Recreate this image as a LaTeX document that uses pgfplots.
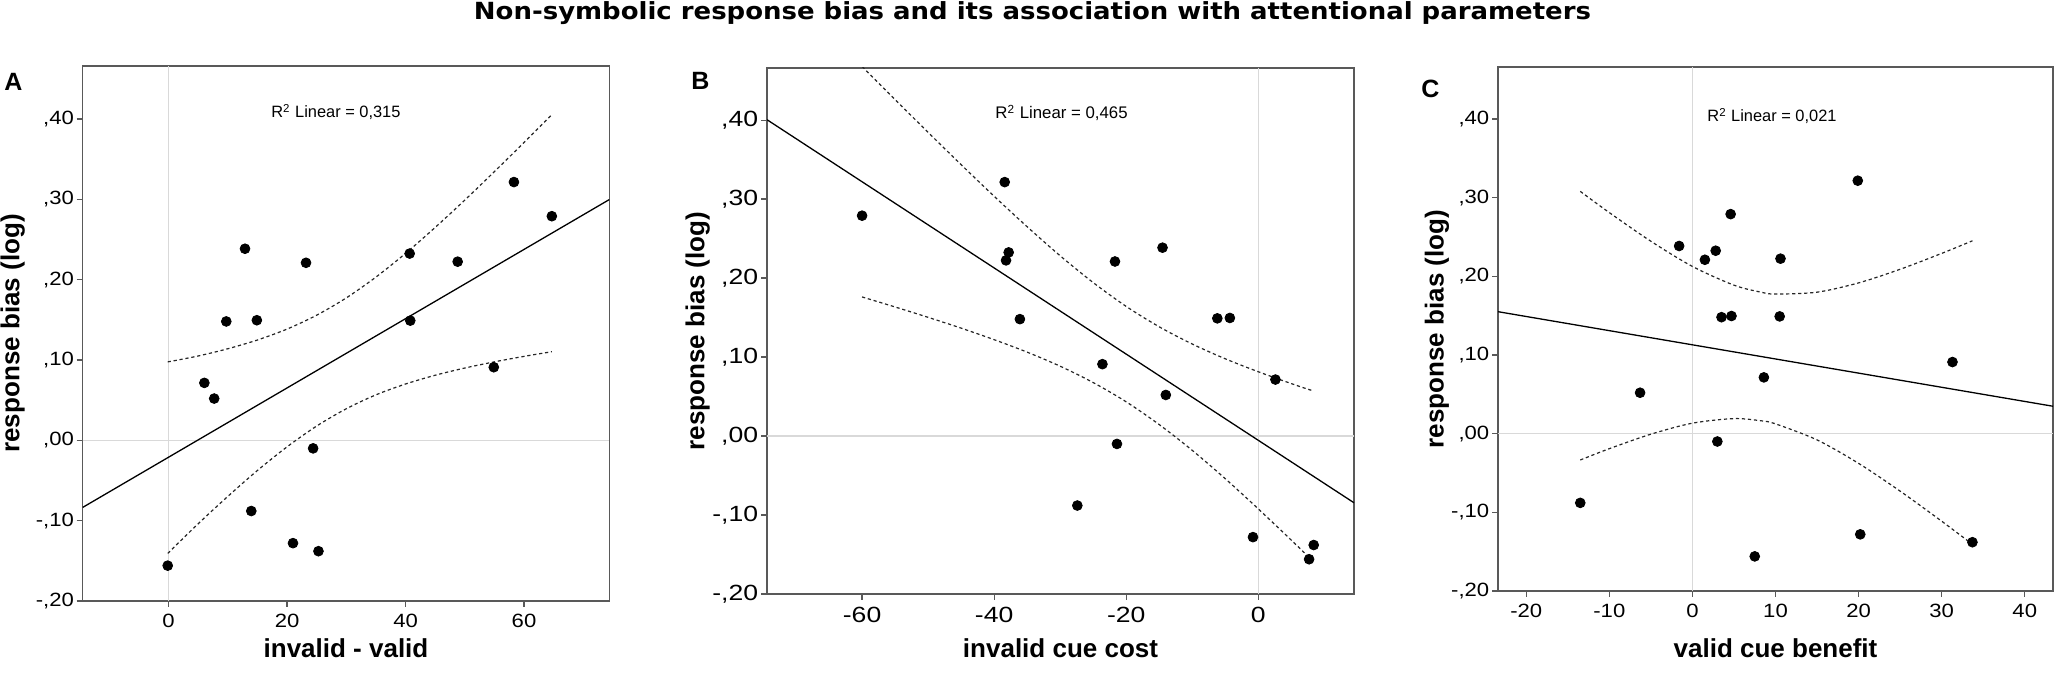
\documentclass[border=0pt]{standalone}
\usepackage{pgfplots}
\pgfplotsset{compat=1.18}
\usepackage{fontspec}
\setmainfont{Liberation Sans}
\newfontfamily\titlefont{DejaVu Sans}

\pgfplotstableread{
x y
-0.15 -0.156
6.04 0.0715
7.7 0.052
9.74 0.148
12.9 0.2385
14.9 0.1495
13.96 -0.088
21.0 -0.128
23.2 0.221
24.4 -0.010
25.3 -0.138
40.7 0.2325
40.8 0.149
48.8 0.2224
54.9 0.091
58.3 0.3215
64.7 0.279
}\dataA

\pgfplotstableread{
x up lo
-0.15 0.0976 -0.1408
5 0.1050 -0.1038
10 0.1140 -0.0698
15 0.1249 -0.0375
20 0.1385 -0.0081
25 0.1558 0.0178
30 0.1773 0.0393
35 0.2032 0.0566
40 0.2327 0.0701
45 0.2650 0.0810
50 0.2990 0.0900
55 0.3345 0.0977
60 0.3707 0.1045
64.7 0.4053 0.1103
}\bandA

\pgfplotstableread{
x y
-60.0 0.279
-38.4 0.3215
-37.8 0.2325
-38.2 0.2224
-36.1 0.148
-21.7 0.221
-14.5 0.2385
-23.6 0.091
-21.4 -0.010
-27.4 -0.088
-14.0 0.052
-6.2 0.149
-4.3 0.1495
2.6 0.0715
-0.8 -0.128
7.7 -0.156
8.4 -0.138
}\dataB

\pgfplotstableread{
x up lo
-60 0.4679 0.1761
-55 0.4260 0.1634
-50 0.3845 0.1503
-45 0.3436 0.1366
-40 0.3036 0.1220
-35 0.2650 0.1062
-30 0.2282 0.0884
-25 0.1943 0.0677
-20 0.1641 0.0433
-15 0.1383 0.0145
-10 0.1165 -0.0181
-5 0.0978 -0.0540
0 0.0814 -0.0922
5 0.0664 -0.1318
8.4 0.0569 -0.1593
}\bandB

\pgfplotstableread{
x y
-13.5 -0.088
-6.3 0.052
-1.6 0.2385
1.5 0.221
2.8 0.2325
3.0 -0.010
3.5 0.148
4.7 0.1495
4.6 0.279
8.6 0.0715
10.6 0.2224
10.5 0.149
7.5 -0.156
19.9 0.3215
20.2 -0.128
31.3 0.091
33.7 -0.138
}\dataC

\pgfplotstableread{
x up lo
-13.5 0.3079 -0.0335
-10 0.2809 -0.0191
-5 0.2445 -0.0007
0 0.2125 0.0133
5 0.1887 0.0191
8.29 0.1797 0.0163
10 0.1774 0.0124
15 0.1798 -0.0080
20 0.1916 -0.0378
25 0.2089 -0.0731
30 0.2291 -0.1113
33.7 0.2451 -0.1407
}\bandC

\pgfplotsset{
  panel/.style={
    scale only axis,
    anchor=south west,
    axis line style={black!65, line width=0.7pt},
    ymin=-0.2, ymax=0.466,
    ytick={-0.2,-0.1,0,0.1,0.2,0.3,0.4},
    yticklabels={{-,20},{-,10},{,00},{,10},{,20},{,30},{,40}},
    tick align=outside,
    major tick length=3pt,
    tick style={black!65, line width=0.6pt},
    xtick pos=bottom, ytick pos=left,
    ticklabel style={font=\fontsize{9.6}{11}\selectfont, xscale=1.15},
    yticklabel style={inner sep=1pt},
    label style={font=\bfseries\fontsize{13}{15}\selectfont},
    xlabel style={anchor=base},
    ylabel style={anchor=center},
  },
  zero/.style={black!15, line width=0.6pt, forget plot},
  fit/.style={black, line width=0.65pt},
  band/.style={black!85, line width=0.6pt, dash pattern=on 1.6pt off 1.4pt, smooth},
  dots/.style={only marks, mark=*, mark size=2.45pt, black},
}

\begin{document}
\begin{tikzpicture}
\useasboundingbox (0,0) rectangle (1027.5pt,336.5pt);

\node[font=\titlefont\bfseries\fontsize{11.8}{14}\selectfont, anchor=base, xscale=1.1] at (516.25pt,326.75pt)
  {Non-symbolic response bias and its association with attentional parameters};

% Panel A
\begin{axis}[panel, at={(41.35pt,36pt)}, width=263.3pt, height=267.5pt,
  xmin=-14.5, xmax=74.4, xtick={0,20,40,60}, xticklabels={0,20,40,60},
  xlabel={invalid - valid}, ylabel={response bias (log)},
  xlabel style={at={(axis description cs:0.5,0)}, yshift=-28.5pt},
  ylabel style={at={(axis description cs:-0.133,0.5)}}]
\addplot[zero] coordinates {(0,-0.2) (0,0.466)};
\addplot[zero] coordinates {(-14.5,0) (74.4,0)};
\addplot[fit] coordinates {(-14.5,-0.0835) (74.4,0.2997)};
\addplot[band] table[x=x,y=up] {\bandA};
\addplot[band] table[x=x,y=lo] {\bandA};
\addplot[dots] table[x=x,y=y] {\dataA};
\end{axis}

% Panel B
\begin{axis}[panel, at={(383.5pt,39.5pt)}, width=293.5pt, height=263pt,
  ticklabel style={font=\fontsize{11}{12}\selectfont, xscale=1.05},
  xmin=-74.4, xmax=14.5, xtick={-60,-40,-20,0}, xticklabels={-60,-40,-20,0},
  xlabel={invalid cue cost}, ylabel={response bias (log)},
  xlabel style={at={(axis description cs:0.5,0)}, yshift=-32pt},
  ylabel style={at={(axis description cs:-0.118,0.5)}}]
\addplot[zero] coordinates {(0,-0.2) (0,0.466)};
\addplot[zero] coordinates {(-74.4,0) (14.5,0)};
\addplot[fit] coordinates {(-74.4,0.4005) (14.5,-0.0845)};
\addplot[band] table[x=x,y=up] {\bandB};
\addplot[band] table[x=x,y=lo] {\bandB};
\addplot[dots] table[x=x,y=y] {\dataB};
\end{axis}

% Panel C
\begin{axis}[panel, at={(749pt,41pt)}, width=277.5pt, height=262pt,
  xmin=-23.4, xmax=43.4, xtick={-20,-10,0,10,20,30,40}, xticklabels={-20,-10,0,10,20,30,40},
  xlabel={valid cue benefit}, ylabel={response bias (log)},
  xlabel style={at={(axis description cs:0.5,0)}, yshift=-33.5pt},
  ylabel style={at={(axis description cs:-0.110,0.5)}}]
\addplot[zero] coordinates {(0,-0.2) (0,0.466)};
\addplot[zero] coordinates {(-23.4,0) (43.4,0)};
\addplot[fit] coordinates {(-23.4,0.155) (43.4,0.0348)};
\addplot[band] table[x=x,y=up] {\bandC};
\addplot[band] table[x=x,y=lo] {\bandC};
\addplot[dots] table[x=x,y=y] {\dataC};
\end{axis}

% R squared annotations
\node[anchor=west, font=\fontsize{8.2}{10}\selectfont, inner sep=0pt] at (135.5pt,280.5pt) {R\textsuperscript{2}\ Linear = 0,315};
\node[anchor=west, font=\fontsize{8.4}{10}\selectfont, inner sep=0pt] at (497.5pt,280pt) {R\textsuperscript{2}\ Linear = 0,465};
\node[anchor=west, font=\fontsize{8.2}{10}\selectfont, inner sep=0pt] at (853.5pt,278.5pt) {R\textsuperscript{2}\ Linear = 0,021};

% panel letters
\node[anchor=base west, font=\bfseries\fontsize{12.5}{14}\selectfont, inner sep=0pt] at (2pt,291pt) {A};
\node[anchor=base west, font=\bfseries\fontsize{12.5}{14}\selectfont, inner sep=0pt] at (345.5pt,291.5pt) {B};
\node[anchor=base west, font=\bfseries\fontsize{12.5}{14}\selectfont, inner sep=0pt] at (710.5pt,287.5pt) {C};
\end{tikzpicture}
\end{document}
